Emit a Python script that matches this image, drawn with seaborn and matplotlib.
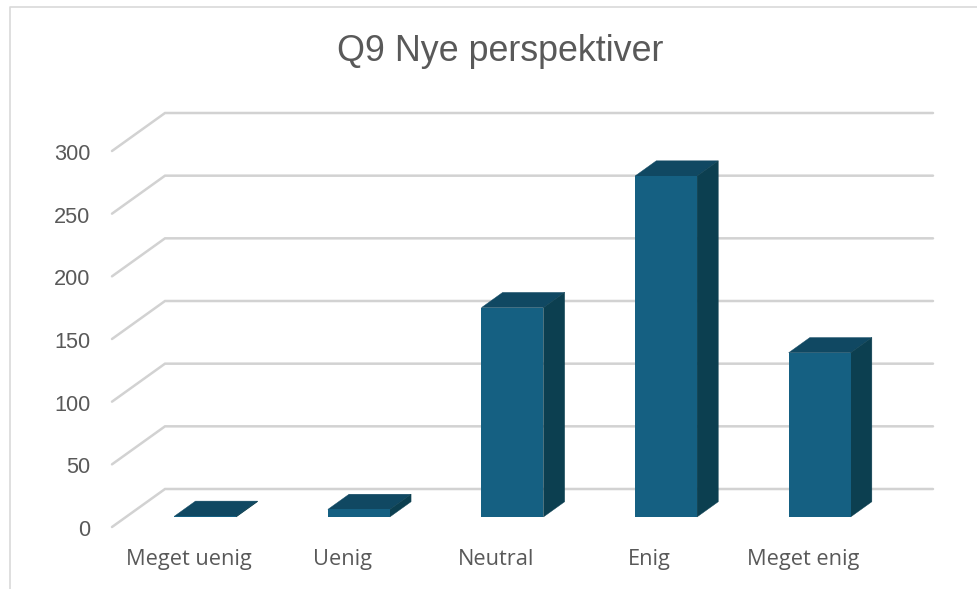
import matplotlib
matplotlib.use("Agg")
import matplotlib.pyplot as plt
from matplotlib.patches import Polygon
from matplotlib.lines import Line2D
from matplotlib.transforms import ScaledTranslation
import seaborn as sns
import numpy as np

categories = ["Meget uenig", "Uenig", "Neutral", "Enig", "Meget enig"]
values = [0.5, 6, 167, 272, 131]
y_ticks = [0, 50, 100, 150, 200, 250, 300]
title = "Q9 Nye perspektiver"

W, H = 978, 589
FRONT, TOP, SIDE = "#156082", "#104862", "#0C3F50"
GRID, TXT = "#D2D2D2", "#595959"
sns.set_style("white")
plt.rcParams["font.family"] = ["Liberation Sans", "DejaVu Sans"]

fig = plt.figure(figsize=(W / 100, H / 100), dpi=100, facecolor="white")
L, R, T, B = 112, 933, 112, 527
ax = fig.add_axes([L / W, 1 - B / H, (R - L) / W, (B - T) / H])
step = 153.6
units = 376 / 300
ax.set_xlim(-0.5, -0.5 + (R - L) / step)
ax.set_ylim(0, (B - T) / units)
depth_x, depth_y = 53 / step, 38 / units
start, span = 0.32, 0.40
pos = np.arange(len(categories), dtype=float)

for v in y_ticks:
    ax.plot([-0.5, -0.5 + depth_x, ax.get_xlim()[1]], [v, v + depth_y, v + depth_y],
            color=GRID, lw=1.8, solid_joinstyle="miter", clip_on=False, zorder=1)

lift = 0.265 * depth_y
bw = 62 / step
xs = pos + start * depth_x - 0.5 / step
sns.barplot(x=xs, y=values, bottom=lift, native_scale=True, width=bw,
            color=FRONT, saturation=1, ax=ax, zorder=4, linewidth=0)
ax.set_xlim(-0.5, -0.5 + (R - L) / step)

dx, dy = span * depth_x, span * depth_y
for x, v in zip(xs, values):
    x0, x1 = x - bw / 2, x + bw / 2
    y0, y1 = lift, lift + v
    ax.add_patch(Polygon([(x0, y1), (x1, y1), (x1 + dx, y1 + dy), (x0 + dx, y1 + dy)],
                         fc=TOP, ec=TOP, lw=0.3, zorder=3))
    ax.add_patch(Polygon([(x1, y0), (x1 + dx, y0 + dy), (x1 + dx, y1 + dy), (x1, y1)],
                         fc=SIDE, ec=SIDE, lw=0.3, zorder=3))

ax.set_xticks(pos)
ax.set_xticklabels(categories, fontsize=15.7, color=TXT, family=["Open Sans", "DejaVu Sans"])
ax.set_yticks(y_ticks)
ax.set_yticklabels([str(v) for v in y_ticks], fontsize=15.7, color=TXT)
ax.tick_params(axis="both", length=0)
ax.tick_params(axis="x", pad=16)
ax.tick_params(axis="y", pad=16)
shift = ScaledTranslation(0.5 / 72, -0.75 / 72, fig.dpi_scale_trans)
for lab in ax.get_yticklabels():
    lab.set_transform(lab.get_transform() + shift)
ax.set_xlabel("")
ax.set_ylabel("")
sns.despine(ax=ax, left=True, bottom=True, right=True, top=True)
ax.patch.set_alpha(0)

fig.text(500 / W, 1 - 51.5 / H, title, ha="center", va="center", fontsize=25.8, color=TXT)

fig.add_artist(Line2D([10 / W, 10 / W, 1], [0, 1 - 6.5 / H, 1 - 6.5 / H], color="#D9D9D9", lw=1.2))

fig.savefig("out.png", dpi=100, facecolor="white")
